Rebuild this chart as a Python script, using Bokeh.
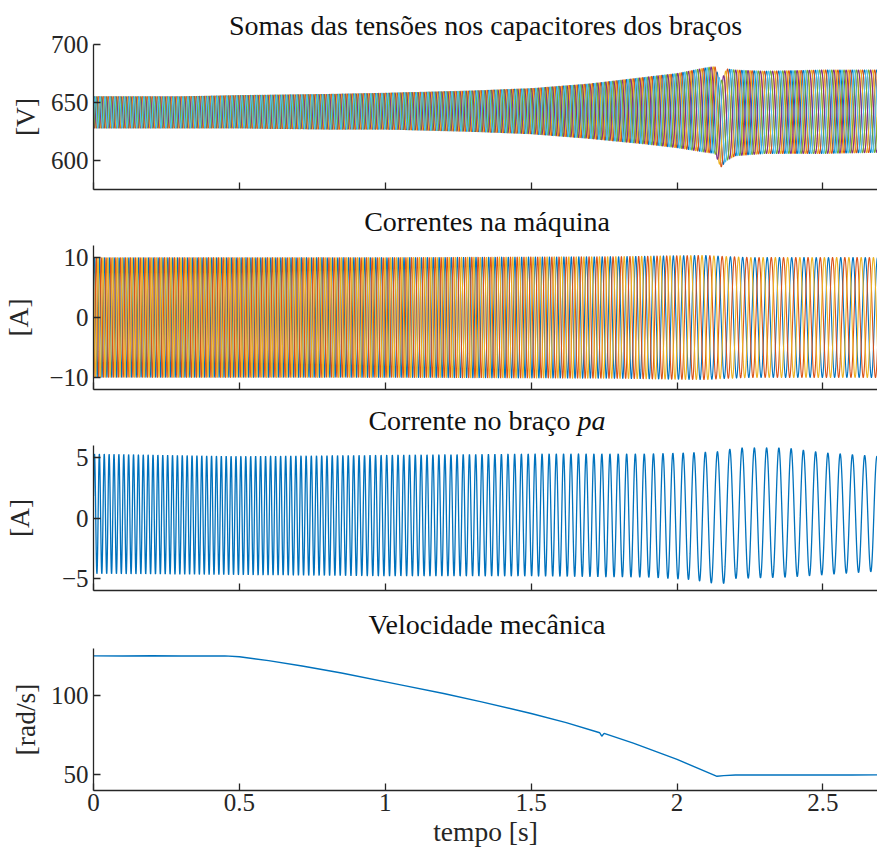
import numpy as np
from bokeh.plotting import figure
from bokeh.models import Range1d, FixedTicker, NumeralTickFormatter, Title, Div
from bokeh.layouts import column
from bokeh.embed import file_html
from bokeh.resources import INLINE

# ---------------- data ----------------
# mechanical speed [rad/s]
speed_t = [0.0, 0.10, 0.20, 0.30, 0.45, 0.50, 0.60, 0.715, 0.85, 1.057, 1.20, 1.33,
           1.50, 1.62, 1.735, 1.742, 1.75, 1.85, 2.00, 2.137, 2.16, 2.20, 2.40, 2.60, 2.687]
speed_w = [125.3, 125.2, 125.4, 125.2, 125.3, 124.8, 122.3, 118.9, 114.5, 106.8, 101.5, 96.2,
           88.8, 83.0, 76.6, 74.4, 76.2, 70.0, 59.7, 49.0, 49.4, 49.8, 49.9, 49.8, 49.9]
pole_pairs = 3

# arm capacitor voltage sums: band envelope [V]
cap_t = [0.0, 0.3, 0.5, 0.8, 1.0, 1.3, 1.5, 1.7, 1.9, 2.0, 2.1, 2.13, 2.15, 2.17, 2.2, 2.3, 2.5, 2.687]
cap_top = [655, 655, 656, 657, 658, 660, 662, 666, 672, 675, 680, 681, 668, 679, 678, 677, 678, 678]
cap_bot = [628, 628, 628, 627, 627, 625, 623, 619, 614, 611, 607, 606, 594, 600, 604, 606, 606, 607]
cap_colors = ["#0072BD", "#D95319", "#EDB120", "#7E2F8E", "#77AC30", "#4DBEEE"]

# machine currents: amplitude [A]
mach_t = [0.0, 1.0, 1.8, 2.0, 2.1, 2.15, 2.25, 2.687]
mach_amp = [10.0, 10.0, 10.15, 10.3, 10.35, 10.2, 10.0, 10.0]
mach_colors = ["#0072BD", "#D95319", "#EDB120"]

# arm current pa: envelope [A]
arm_t = [0.0, 0.5, 1.0, 1.5, 1.9, 2.05, 2.15, 2.2, 2.37, 2.5, 2.687]
arm_top = [5.3, 5.1, 5.2, 5.3, 5.3, 5.4, 5.5, 5.8, 5.8, 5.4, 5.1]
arm_bot = [-4.6, -4.7, -4.8, -4.8, -4.9, -5.1, -5.5, -5.0, -4.9, -4.7, -4.4]

x_ticks = [0, 0.5, 1, 1.5, 2, 2.5]
t_end = 2.687

# ---------------- waveforms built from the read values ----------------
t = np.linspace(0.0, t_end, 9000)
w_m = np.interp(t, speed_t, speed_w)
theta = pole_pairs * np.concatenate([[0.0], np.cumsum(0.5 * (w_m[1:] + w_m[:-1]) * np.diff(t))])

def band(tt, top, bot, phase):
    hi = np.interp(t, tt, top)
    lo = np.interp(t, tt, bot)
    return 0.5 * (hi + lo) + 0.5 * (hi - lo) * np.sin(theta + phase)

FONT = "Liberation Serif"
AX = "#262626"

def make_fig(top, fh, bottom, yr, yticks, ylabel, lab_standoff, last=False):
    p = figure(width=877, height=top + fh + bottom, output_backend="svg", toolbar_location=None,
               x_range=Range1d(0, t_end), y_range=Range1d(*yr),
               min_border_left=91, min_border_right=0, min_border_top=top, min_border_bottom=bottom)
    p.outline_line_color = None
    p.xgrid.visible = False
    p.ygrid.visible = False
    p.background_fill_color = "white"
    p.border_fill_color = "white"
    for ax in (p.xaxis, p.yaxis):
        ax.axis_line_color = AX
        ax.axis_line_width = 1.3
        ax.major_tick_line_color = AX
        ax.major_tick_line_width = 1.3
        ax.major_tick_in = 7
        ax.major_tick_out = 0
        ax.minor_tick_in = 0
        ax.minor_tick_out = 0
        ax.major_label_text_font = FONT
        ax.major_label_text_font_size = "25px"
        ax.major_label_text_color = AX
        ax.axis_label_text_font = FONT
        ax.axis_label_text_font_size = "27.5px"
        ax.axis_label_text_font_style = "normal"
        ax.axis_label_text_color = AX
    p.yaxis.ticker = FixedTicker(ticks=yticks)
    p.yaxis.major_label_standoff = 5
    p.yaxis.axis_label = ylabel
    p.yaxis.axis_label_standoff = lab_standoff
    p.xaxis.ticker = FixedTicker(ticks=x_ticks)
    p.xaxis.formatter = NumeralTickFormatter(format="0.[0]")
    if last:
        p.xaxis.major_label_standoff = 3
        p.xaxis.axis_label = "tempo [s]"
        p.xaxis.axis_label_standoff = 2
    else:
        p.xaxis.major_label_text_color = None
        p.xaxis.major_label_text_font_size = "0px"
        p.xaxis.major_label_standoff = 0
    return p

def title_div(html, h, pad):
    inner = ('<div style="margin-left:97px;width:780px;text-align:center;'
             'font-family:\'Liberation Serif\';font-size:28px;line-height:28px;color:#111111;'
             'padding-top:%dpx;white-space:nowrap;">%s</div>' % (pad, html))
    return Div(text=inner, width=877, height=h, margin=(0, 0, 0, 0))

# panel 1
p1 = make_fig(44, 145, 14, (575, 700), [600, 650, 700], "[V]", 7)
for k, c in enumerate(cap_colors):
    p1.line(t, band(cap_t, cap_top, cap_bot, k * np.pi / 3 + 0.4), line_color=c, line_width=1.1)
p1.title = Title(text="Somas das tensões nos capacitores dos braços", align="center",
                 text_font=FONT, text_font_size="28px", text_font_style="normal",
                 text_color="#111111", standoff=7, offset=3)

# panel 2
d2 = title_div("Correntes na máquina", 38, 5)
p2 = make_fig(4, 144, 14, (-12, 12), [-10, 0, 10], "[A]", 12)
amp = np.interp(t, mach_t, mach_amp)
for k, c in enumerate(mach_colors):
    p2.line(t, amp * np.sin(theta - k * 2 * np.pi / 3), line_color=c, line_width=1.1)

# panel 3
d3 = title_div("Corrente no braço <i>pa</i>", 38, 4)
p3 = make_fig(4, 145, 15, (-6, 6), [-5, 0, 5], "[A]", 24)
p3.line(t, band(arm_t, arm_top, arm_bot, 0.3), line_color="#0072BD", line_width=1.3)

# panel 4
d4 = title_div("Velocidade mecânica", 39, 6)
p4 = make_fig(4, 142, 65, (40, 130), [50, 100], "[rad/s]", 7, last=True)
p4.line(speed_t, speed_w, line_color="#0072BD", line_width=1.4)

layout = column(p1, d2, p2, d3, p3, d4, p4, spacing=0)
open("out.html", "w").write(file_html(layout, INLINE))
